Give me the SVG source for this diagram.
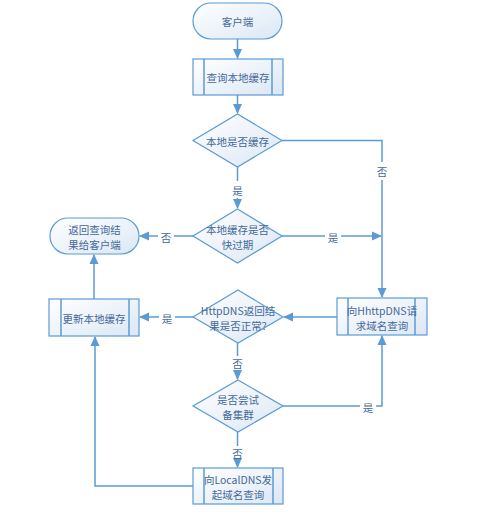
<svg xmlns="http://www.w3.org/2000/svg" width="477" height="521" viewBox="0 0 477 521">
<style>
.s{fill:url(#g);stroke:#5b9bd5;stroke-width:1.2}
.l{fill:none;stroke:#5b9bd5;stroke-width:1.5}
.t{font-family:"Noto Sans CJK SC","Liberation Sans",sans-serif;font-size:10.5px;fill:#44699a;text-anchor:middle;dominant-baseline:central}
.lb{font-family:"Noto Sans CJK SC","Liberation Sans",sans-serif;font-size:10.5px;fill:#44699a;text-anchor:middle;dominant-baseline:central}
</style>
<defs>
<linearGradient id="g" x1="0" y1="0" x2="1" y2="1">
<stop offset="0" stop-color="#ffffff"/>
<stop offset="1" stop-color="#dbe7f4"/>
</linearGradient>
<marker id="a" markerWidth="10" markerHeight="10" refX="9" refY="5" orient="auto" markerUnits="userSpaceOnUse">
<path d="M0,0.5 L10,5 L0,9.5 Z" fill="#5b9bd5"/>
</marker>
</defs>
<g id="connectors">
<line class="l" x1="237.5" y1="39" x2="237.5" y2="58" marker-end="url(#a)"/>
<line class="l" x1="237.5" y1="95" x2="237.5" y2="113" marker-end="url(#a)"/>
<line class="l" x1="237.5" y1="167" x2="237.5" y2="181"/>
<line class="l" x1="237.5" y1="198" x2="237.5" y2="208" marker-end="url(#a)"/>
<polyline class="l" points="282,140.5 382,140.5 382,162"/>
<line class="l" x1="382" y1="180" x2="382" y2="297" marker-end="url(#a)"/>
<line class="l" x1="282" y1="236" x2="325" y2="236"/>
<line class="l" x1="341" y1="236" x2="381" y2="236" marker-end="url(#a)"/>
<line class="l" x1="193" y1="236" x2="174" y2="236"/>
<line class="l" x1="158" y1="236" x2="140" y2="236" marker-end="url(#a)"/>
<line class="l" x1="337" y1="317" x2="284" y2="317" marker-end="url(#a)"/>
<line class="l" x1="193" y1="317" x2="175" y2="317"/>
<line class="l" x1="159" y1="317" x2="140" y2="317" marker-end="url(#a)"/>
<line class="l" x1="94" y1="299" x2="94" y2="255" marker-end="url(#a)"/>
<line class="l" x1="237.5" y1="343" x2="237.5" y2="356"/>
<line class="l" x1="237.5" y1="371" x2="237.5" y2="379" marker-end="url(#a)"/>
<polyline class="l" points="283,406 360,406"/>
<polyline class="l" points="376,406 382,406 382,336" marker-end="url(#a)"/>
<line class="l" x1="237.5" y1="432" x2="237.5" y2="446"/>
<line class="l" x1="237.5" y1="461" x2="237.5" y2="467" marker-end="url(#a)"/>
<polyline class="l" points="193,486 95,486 95,337" marker-end="url(#a)"/>
<text class="lb" x="237.5" y="190">是</text>
<text class="lb" x="382" y="171">否</text>
<text class="lb" x="333" y="237">是</text>
<text class="lb" x="166" y="237">否</text>
<text class="lb" x="167" y="318">是</text>
<text class="lb" x="237.5" y="363">否</text>
<text class="lb" x="368" y="407">是</text>
<text class="lb" x="237.5" y="453">否</text>
</g>
<g id="start">
<rect class="s" x="193" y="3" width="89" height="36" rx="18" ry="18"/>
<text class="t" x="237.5" y="21">客户端</text>
</g>
<g id="query-local">
<rect class="s" x="193" y="59" width="90" height="36"/>
<line class="l" x1="204" y1="59" x2="204" y2="95" stroke-width="1"/>
<line class="l" x1="272" y1="59" x2="272" y2="95" stroke-width="1"/>
<text class="t" x="238" y="77">查询本地缓存</text>
</g>
<g id="is-cached">
<polygon class="s" points="237.5,114 282,140.5 237.5,167 193,140.5"/>
<text class="t" x="237.5" y="141">本地是否缓存</text>
</g>
<g id="is-expiring">
<polygon class="s" points="237.5,209 282,236 237.5,263 193,236"/>
<text class="t" x="237.5" y="229">本地缓存是否</text>
<text class="t" x="237.5" y="244">快过期</text>
</g>
<g id="return-result">
<rect class="s" x="50" y="218" width="89" height="36" rx="18" ry="18"/>
<text class="t" x="94.5" y="229">返回查询结</text>
<text class="t" x="94.5" y="244">果给客户端</text>
</g>
<g id="update-local">
<rect class="s" x="49" y="299" width="90" height="37"/>
<line class="l" x1="61" y1="299" x2="61" y2="336" stroke-width="1"/>
<line class="l" x1="129" y1="299" x2="129" y2="336" stroke-width="1"/>
<text class="t" x="94" y="318">更新本地缓存</text>
</g>
<g id="httpdns-ok">
<polygon class="s" points="238,290 283,317 238,343 193,317"/>
<text class="t" x="238" y="310">HttpDNS返回结</text>
<text class="t" x="238" y="325">果是否正常?</text>
</g>
<g id="httpdns-query">
<rect class="s" x="337" y="298" width="90" height="37"/>
<line class="l" x1="348" y1="298" x2="348" y2="335" stroke-width="1"/>
<line class="l" x1="415" y1="298" x2="415" y2="335" stroke-width="1"/>
<text class="t" x="382" y="310">向HhttpDNS请</text>
<text class="t" x="382" y="325">求域名查询</text>
</g>
<g id="try-backup">
<polygon class="s" points="238,380 283,406 238,432 193,406"/>
<text class="t" x="238" y="399">是否尝试</text>
<text class="t" x="238" y="414">备集群</text>
</g>
<g id="localdns-query">
<rect class="s" x="193" y="468" width="90" height="36"/>
<line class="l" x1="204" y1="468" x2="204" y2="504" stroke-width="1"/>
<line class="l" x1="273" y1="468" x2="273" y2="504" stroke-width="1"/>
<text class="t" x="238" y="479">向LocalDNS发</text>
<text class="t" x="238" y="494">起域名查询</text>
</g>
</svg>
